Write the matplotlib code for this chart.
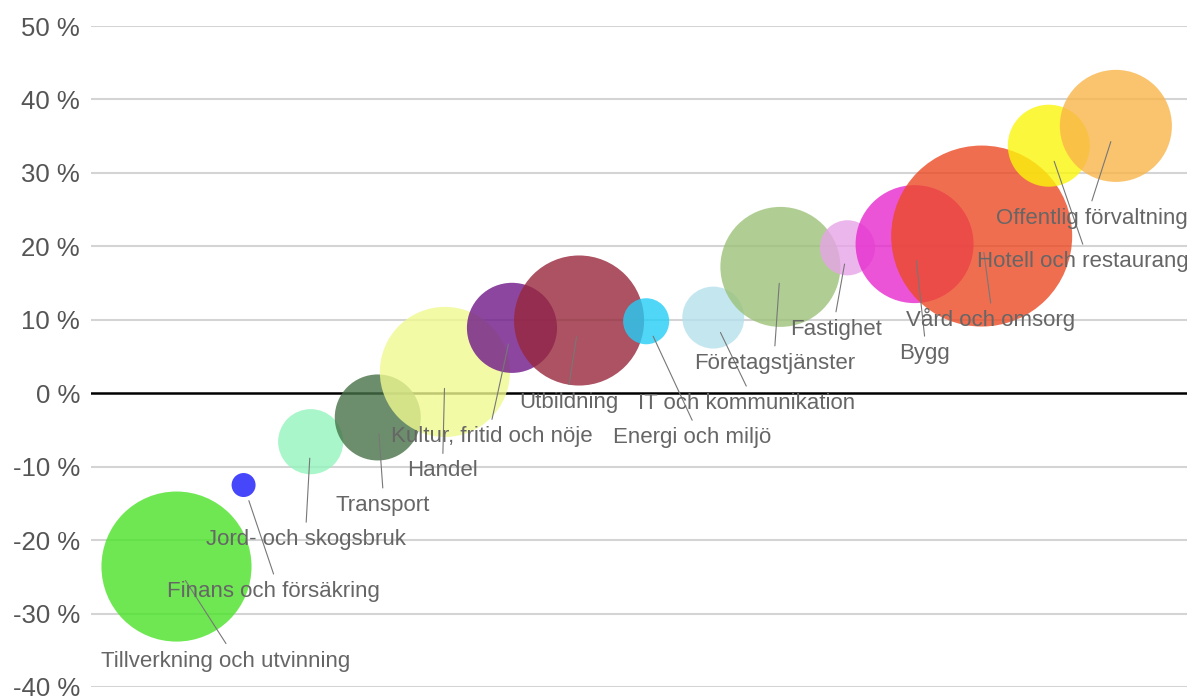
import matplotlib
matplotlib.use("Agg")
import matplotlib.pyplot as plt
import numpy as np

# ---------------- data ----------------
branscher = [
    "Tillverkning och utvinning",
    "Finans och försäkring",
    "Jord- och skogsbruk",
    "Transport",
    "Handel",
    "Kultur, fritid och nöje",
    "Utbildning",
    "Energi och miljö",
    "IT och kommunikation",
    "Företagstjänster",
    "Fastighet",
    "Bygg",
    "Vård och omsorg",
    "Hotell och restaurang",
    "Offentlig förvaltning",
]
forandring = [-23.6, -12.5, -6.6, -3.3, 2.9, 8.9, 9.9, 9.8, 10.3,
              17.2, 19.8, 20.3, 21.4, 33.7, 36.4]          # y, %
storlek = [56.3, 1.44, 10.6, 18.5, 42.3, 20.3, 42.3, 5.3, 9.6,
           36.0, 7.6, 34.8, 81.9, 16.8, 31.4]               # bubble size (area)
farger = ["#4AE227", "#1818F9", "#92F4BD", "#477247", "#EFF98F",
          "#6F1888", "#97273B", "#24CEF6", "#B5E0EC", "#9CC279",
          "#E7A4E7", "#E729CE", "#EC4A24", "#FBF60B", "#F9B54A"]
yticks = [-40, -30, -20, -10, 0, 10, 20, 30, 40, 50]

# label placement (pixel offsets of label centre from bubble centre, y downward)
label_off = [(49.5, 92), (30, 104), (-4.5, 95.5), (5, 85.5), (-2, 96.5),
             (-20, 106.5), (-10, 79), (46, 114), (33, 83.5), (-5.5, 94),
             (-11.5, 79), (10, 107), (9, 82), (34, 113.5), (-24, 90)]

# ---------------- figure ----------------
W, H = 1187, 699
fig = plt.figure(figsize=(W / 100, H / 100), dpi=100)
ax = fig.add_axes([91 / W, (H - 687) / H, (W - 91) / W, (687 - 26) / H])

x = np.arange(len(branscher))
ax.set_xlim(-1.274, 15.06)
ax.set_ylim(-40, 50)

for v in yticks:
    if v == 0:
        continue
    ax.axhline(v, color="#d4d4d4", lw=1.5, zorder=0)
ax.axhline(0, color="black", lw=1.8, zorder=1)

s = np.array(storlek) * (1.44 * 10) ** 2
ax.scatter(x, forandring, s=s, c=farger, alpha=0.8, linewidths=0, zorder=2,
           clip_on=False)

font = "Liberation Sans"
for i, name in enumerate(branscher):
    dx, dy = label_off[i]
    # connector line
    ax.annotate("", xy=(x[i], forandring[i]), xycoords="data",
                xytext=(dx, -(dy - 15)), textcoords="offset pixels",
                arrowprops=dict(arrowstyle="-", color="#777777", lw=0.8,
                                shrinkA=0, shrinkB=16.5 * 0.72),
                zorder=3, annotation_clip=False)
    ax.annotate(name, xy=(x[i], forandring[i]), xycoords="data",
                xytext=(dx, -(dy + 8)), textcoords="offset pixels",
                ha="center", va="baseline", fontsize=16, family=font,
                color="#666666", zorder=4, annotation_clip=False)

ax.set_yticks(yticks)
ax.set_yticklabels([f"{v} %" for v in yticks], family=font, fontsize=18.5,
                   color="#555555")
ax.tick_params(axis="y", length=0, pad=8)
ax.set_xticks([])
for sp in ax.spines.values():
    sp.set_visible(False)

fig.savefig("out.png", dpi=100)
